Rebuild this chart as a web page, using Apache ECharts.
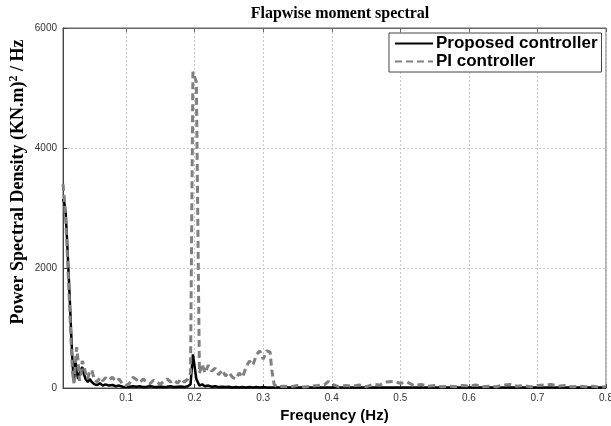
<!DOCTYPE html>
<html>
<head>
<meta charset="utf-8">
<script src="https://cdn.jsdelivr.net/npm/echarts@6/dist/echarts.min.js"></script>
<style>html,body{margin:0;padding:0;background:#fff}#c{width:611px;height:426px}</style>
</head>
<body>
<div id="c"></div>
<script>
var freq = [0.008,0.010,0.012,0.014,0.016,0.018,0.020,0.022,0.024,0.026,0.028,0.030,0.032,0.034,0.036,0.038,0.041,0.044,0.047,0.050,
0.054,0.058,0.062,0.066,0.070,0.075,0.080,0.085,0.090,0.095,0.100,0.105,0.110,0.115,0.120,0.125,0.130,0.135,0.140,0.145,
0.150,0.155,0.160,0.165,0.170,0.175,0.180,0.185,0.190,0.194,0.1975,0.2025,0.207,0.211,0.215,0.220,0.225,0.230,0.235,0.240,
0.245,0.250,0.255,0.260,0.265,0.270,0.275,0.280,0.285,0.290,0.295,0.300,0.305,0.310,0.3125,0.316,0.320,0.330,0.340,0.350,
0.360,0.370,0.380,0.390,0.395,0.400,0.410,0.420,0.430,0.440,0.450,0.460,0.470,0.480,0.490,0.500,0.510,0.520,0.530,0.540,
0.550,0.560,0.570,0.580,0.590,0.600,0.610,0.620,0.630,0.640,0.650,0.660,0.670,0.680,0.690,0.700,0.710,0.720,0.730,0.740,
0.750,0.760,0.770,0.780,0.790,0.800];

var proposed = [3150,3080,2900,2450,1950,1450,900,400,100,450,300,150,130,300,350,250,150,100,150,100,
60,50,80,40,60,40,50,30,40,20,15,20,30,20,30,15,20,30,20,15,
25,15,20,30,15,20,25,15,30,60,560,150,40,60,30,40,20,30,15,20,
15,20,10,15,10,15,10,15,10,15,10,15,10,10,10,8,8,8,8,8,
8,8,8,8,8,8,8,8,8,8,8,8,8,8,8,8,8,8,8,8,
8,8,8,8,8,8,8,8,8,8,8,8,8,8,8,8,8,8,8,8,
8,8,8,8,8,8];

var pi = [3400,3150,2800,2300,1800,1250,700,250,80,400,680,450,120,200,450,380,250,150,280,300,
130,100,180,120,170,130,180,110,150,60,40,80,180,140,90,150,100,70,130,100,
60,110,150,100,130,80,150,100,150,250,5270,5100,250,400,250,380,280,330,220,300,
200,260,180,150,250,180,350,450,380,550,620,480,620,600,300,60,20,30,20,40,
15,30,40,60,110,70,20,40,30,50,20,60,50,100,110,80,100,40,60,30,
40,20,30,20,40,30,50,20,30,20,50,60,30,40,20,40,50,60,30,40,
20,30,20,30,15,20];

var xTicks = [0.1,0.2,0.3,0.4,0.5,0.6,0.7,0.8];
var yTicks = [0,2000,4000,6000];

function pairs(v){ return freq.map(function(f,i){ return [f, v[i]]; }); }

var gridLine = {show: true, lineStyle: {color: '#c8c8c8', type: [2,2], width: 1}};
var chart = echarts.init(document.getElementById('c'), null, {renderer:'canvas'});
chart.setOption({
  animation: false,
  backgroundColor: '#fff',
  title: {
    text: 'Flapwise moment spectral',
    left: 335, top: 1, textAlign: 'center',
    textStyle: {fontFamily: 'Liberation Serif', fontWeight: 'bold', fontSize: 16, color: '#000'}
  },
  legend: {
    orient: 'vertical',
    left: 389, top: 33,
    padding: [2, 4, 2, 5],
    itemGap: 1,
    itemWidth: 38, itemHeight: 16,
    borderColor: '#444', borderWidth: 1,
    backgroundColor: '#fff',
    itemStyle: {opacity: 0},
    textStyle: {fontFamily: 'Liberation Sans', fontWeight: 'bold', fontSize: 17, color: '#000', padding: [0,0,0,-2]},
    data: ['Proposed controller', 'PI controller']
  },
  graphic: [{
    type: 'text', x: 18, y: 182, rotation: Math.PI / 2,
    style: {
      text: '{a|Power Spectral Density (KN.m)}{s|2}{a| / Hz}',
      align: 'center', verticalAlign: 'middle',
      rich: {
        a: {fontFamily: 'Liberation Serif', fontWeight: 'bold', fontSize: 18, fill: '#000'},
        s: {fontFamily: 'Liberation Serif', fontWeight: 'bold', fontSize: 12, fill: '#000', padding: [0,0,9,0]}
      }
    }
  }],
  grid: {left: 63, right: 5, top: 28, bottom: 38, show: true, borderColor: '#666', borderWidth: 1,
    backgroundColor: '#fff', containLabel: false, outerBoundsMode: 'none'},
  xAxis: [{
    type: 'value', min: 0.008, max: 0.8,
    name: 'Frequency (Hz)', nameLocation: 'middle', nameGap: 17,
    nameTextStyle: {fontFamily: 'Liberation Sans', fontWeight: 'bold', fontSize: 15, color: '#000'},
    axisLine: {lineStyle: {color: '#444'}},
    axisTick: {show: true, inside: true, length: 4, customValues: xTicks, lineStyle: {color: '#444'}},
    axisLabel: {customValues: xTicks, fontFamily: 'Liberation Sans', fontSize: 10, color: '#333', margin: 5,
      formatter: function(v){ return v.toFixed(1); }},
    splitLine: gridLine
  }, {
    type: 'value', min: 0.008, max: 0.8, position: 'top',
    axisLine: {show: true, lineStyle: {color: '#666'}},
    axisTick: {show: true, inside: true, length: 4, customValues: xTicks, lineStyle: {color: '#666'}},
    axisLabel: {show: false}, splitLine: {show: false}
  }],
  yAxis: {
    type: 'value', min: 0, max: 6000, interval: 2000,
    axisLine: {show: true, lineStyle: {color: '#444'}},
    axisTick: {show: true, inside: true, length: 4, lineStyle: {color: '#444'}},
    axisLabel: {fontFamily: 'Liberation Sans', fontSize: 10, color: '#333', margin: 6,
      formatter: function(v){ return String(v); }},
    splitLine: gridLine
  },
  series: [
    {name: 'Proposed controller', type: 'line', data: pairs(proposed), showSymbol: false, symbol: 'none',
     lineStyle: {color: '#000', width: 2.5}, itemStyle: {color: '#000'}},
    {name: 'PI controller', type: 'line', data: pairs(pi), showSymbol: false, symbol: 'none',
     lineStyle: {color: '#808080', width: 3, type: [7,4]}, itemStyle: {color: '#808080'}}
  ]
});
</script>
</body>
</html>
